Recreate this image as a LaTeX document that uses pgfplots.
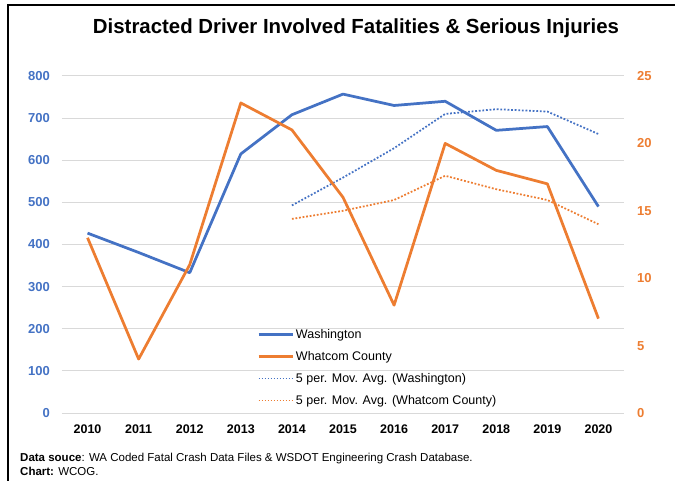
\documentclass[border=0pt]{standalone}
\usepackage{fontspec}
\setmainfont{Liberation Sans}
\usepackage{pgfplots}
\pgfplotsset{compat=1.18}
\definecolor{wablue}{HTML}{4472C4}
\definecolor{whorange}{HTML}{ED7D31}
\definecolor{gridgray}{HTML}{D9D9D9}
\begin{document}
\begin{tikzpicture}[x=1pt,y=1pt]
\pgfplotsset{
  common/.style={
    at={(62pt,67pt)}, anchor=south west, scale only axis,
    width=562pt, height=337pt,
    xmin=-0.5, xmax=10.5,
    axis line style={draw=none}, tick style={draw=none},
    /pgf/number format/assume math mode=true,
    clip=false,
  }
}
\begin{axis}[common,
  ymin=0, ymax=800, ytick={0,100,...,800},
  xtick={0,...,10},
  xticklabels={2010,2011,2012,2013,2014,2015,2016,2017,2018,2019,2020},
  xticklabel style={font=\fontsize{12.5}{14}\selectfont\bfseries, inner sep=0pt, anchor=north, yshift=-12pt},
  yticklabel style={font=\fontsize{13}{15}\selectfont\bfseries, text=wablue, inner sep=0pt, anchor=east, xshift=-12pt},
  ymajorgrids, major grid style={draw=gridgray, line width=1pt},
]
\addplot[wablue, line width=2.75pt, line join=round] coordinates {
 (0,427) (1,381) (2,333) (3,615) (4,708) (5,757) (6,730) (7,740) (8,671) (9,680) (10,490)};
\addplot[wablue, line width=1.75pt, dash pattern=on 1.8pt off 1.8pt] coordinates {
 (4,492.8) (5,558.8) (6,628.6) (7,710) (8,721.2) (9,715.6) (10,662.2)};
\end{axis}
\begin{axis}[common,
  ymin=0, ymax=25, ytick={0,5,...,25},
  axis y line*=right, axis x line=none,
  yticklabel style={font=\fontsize{13}{15}\selectfont\bfseries, text=whorange, inner sep=0pt, anchor=west, xshift=13pt},
  legend style={at={(0.347,0.255)}, anchor=north west, draw=none, fill=none, inner sep=0pt,
    font=\fontsize{12.5}{14}\selectfont, row sep=7.5pt,
    /tikz/every even column/.append style={column sep=2pt}},
  legend cell align=left,
  legend image code/.code={\draw[#1] (0pt,0pt) -- (34pt,0pt);},
]
\addlegendimage{wablue, line width=2.75pt}
\addlegendentry{Washington}
\addlegendimage{whorange, line width=2.75pt}
\addlegendentry{Whatcom County}
\addlegendimage{wablue, line width=1.5pt, dash pattern=on 1.5pt off 1.5pt}
\addlegendentry{5 per. Mov. Avg. (Washington)}
\addlegendimage{whorange, line width=1.5pt, dash pattern=on 1.5pt off 1.5pt}
\addlegendentry{5 per. Mov. Avg. (Whatcom County)}
\addplot[whorange, line width=2.75pt, line join=round, forget plot] coordinates {
 (0,13) (1,4) (2,11) (3,23) (4,21) (5,16) (6,8) (7,20) (8,18) (9,17) (10,7)};
\addplot[whorange, line width=1.75pt, dash pattern=on 1.8pt off 1.8pt, forget plot] coordinates {
 (4,14.4) (5,15) (6,15.8) (7,17.6) (8,16.6) (9,15.8) (10,14)};
\end{axis}
\node[anchor=base, font=\fontsize{20.4}{24}\selectfont\bfseries] at (356pt,446pt) {Distracted Driver Involved Fatalities \& Serious Injuries};
\node[anchor=base west, inner sep=0pt, font=\fontsize{11.5}{13}\selectfont] at (20pt,19pt) {\textbf{Data souce}: WA Coded Fatal Crash Data Files \& WSDOT Engineering Crash Database.};
\node[anchor=base west, inner sep=0pt, font=\fontsize{11.5}{13}\selectfont] at (20pt,5pt) {\textbf{Chart:} WCOG.};
\draw[line width=1.5pt] (8pt,-5pt) -- (8pt,475pt) -- (680pt,475pt);
\pgfresetboundingbox
\useasboundingbox (0pt,0pt) rectangle (675pt,480pt);
\end{tikzpicture}
\end{document}
